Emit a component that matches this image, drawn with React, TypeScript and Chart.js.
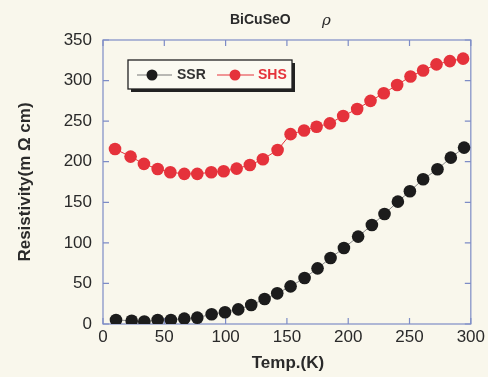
import React, { useEffect, useRef } from "react";
import { Chart, registerables } from "chart.js";

Chart.register(...registerables);

const ssrTemp = [10.6, 23.4, 33.7, 44.6, 55.4, 66.3, 76.9, 88.6, 99.5, 110.3, 120.9, 131.8, 142.1, 153, 164.4, 175, 185.6, 196.5, 208.1, 219.3, 229.6, 240.5, 250.3, 261.1, 272.8, 283.7, 294.5];
const ssrRho = [5, 4, 3, 5, 5, 6.6, 7.8, 12, 14.4, 18, 23.4, 30.8, 37.8, 46.4, 56.7, 68.6, 81.4, 93.7, 107.7, 122, 135.6, 150.8, 163.6, 178.4, 190.7, 205, 217.4];

const shsTemp = [9.8, 22.5, 33.4, 44.6, 54.9, 66.3, 76.9, 88.3, 98.4, 109, 119.8, 130.4, 142.4, 153, 164, 174.2, 185, 195.9, 207.3, 218.2, 229, 239.9, 250.8, 261.1, 272, 282.9, 293.7];
const shsRho = [215.7, 206.3, 197.3, 191, 187, 185, 185, 187, 188.3, 191.5, 196, 203, 214.5, 234, 238.5, 243, 247.3, 256.4, 265, 275, 284.3, 294.6, 305, 312.4, 320, 324, 327];

const xTickValues = [0, 50, 100, 150, 200, 250, 300];
const yTickValues = [0, 50, 100, 150, 200, 250, 300, 350];

const seriesNames = ["SSR", "SHS"];
const titleText = "BiCuSeO";
const titleSymbol = "ρ";
const xTitle = "Temp.(K)";
const yTitle = "Resistivity(m Ω cm)";

const BG = "#f9f7ec";
const FRAME = "#7d8cc6";
const RED = "#e5323b";
const BLACK = "#1c1c1c";
const FONT = "'Liberation Sans', Arial, sans-serif";

const decor = {
  id: "decor",
  beforeDraw(chart: any) {
    const ctx = chart.ctx;
    ctx.save();
    ctx.fillStyle = BG;
    ctx.fillRect(0, 0, chart.width, chart.height);
    ctx.restore();
  },
  beforeDatasetsDraw(chart: any) {
    const ctx = chart.ctx;
    const { left, right, top, bottom } = chart.chartArea;
    const xs = chart.scales.x;
    const ys = chart.scales.y;
    ctx.save();
    ctx.strokeStyle = FRAME;
    ctx.lineWidth = 1.2;
    ctx.strokeRect(left, top, right - left, bottom - top);
    const len = 6;
    ctx.beginPath();
    xTickValues.forEach((v) => {
      const x = xs.getPixelForValue(v);
      ctx.moveTo(x, bottom);
      ctx.lineTo(x, bottom - len);
      ctx.moveTo(x, top);
      ctx.lineTo(x, top + len);
    });
    yTickValues.forEach((v) => {
      const y = ys.getPixelForValue(v);
      ctx.moveTo(left, y);
      ctx.lineTo(left + len, y);
      ctx.moveTo(right, y);
      ctx.lineTo(right - len, y);
    });
    ctx.stroke();
    ctx.restore();
  },
  afterDraw(chart: any) {
    const ctx = chart.ctx;
    const { left, right, top, bottom } = chart.chartArea;
    ctx.save();
    // title
    ctx.fillStyle = "#2a2a2a";
    ctx.textBaseline = "middle";
    ctx.textAlign = "left";
    ctx.font = `bold 14px ${FONT}`;
    ctx.fillText(titleText, 230, 20);
    ctx.font = `italic 15px 'DejaVu Serif', serif`;
    ctx.fillText(titleSymbol, 322, 21);
    // x title
    ctx.textAlign = "center";
    ctx.font = `bold 17px ${FONT}`;
    ctx.fillText(xTitle, (left + right) / 2 + 1, 363);
    // y title
    ctx.save();
    ctx.translate(25, (top + bottom) / 2);
    ctx.rotate(-Math.PI / 2);
    ctx.fillText(yTitle, 0, 0);
    ctx.restore();

    // legend box
    const bx = 128, by = 60, bw = 164, bh = 29;
    ctx.fillStyle = "#222";
    ctx.fillRect(bx + 3, by + 3, bw, bh);
    ctx.fillStyle = "#fbfaf2";
    ctx.fillRect(bx, by, bw, bh);
    ctx.strokeStyle = "#222";
    ctx.lineWidth = 1.3;
    ctx.strokeRect(bx, by, bw, bh);
    const cy = by + bh / 2 + 0.5;
    const items = [
      { name: seriesNames[0], color: BLACK, line: "#777", x0: 137, x1: 172, dot: 152, tx: 177, tc: "#333" },
      { name: seriesNames[1], color: RED, line: RED, x0: 217, x1: 254, dot: 235, tx: 258, tc: RED },
    ];
    items.forEach((it) => {
      ctx.strokeStyle = it.line;
      ctx.lineWidth = 1;
      ctx.beginPath();
      ctx.moveTo(it.x0, cy);
      ctx.lineTo(it.x1, cy);
      ctx.stroke();
      ctx.fillStyle = it.color;
      ctx.beginPath();
      ctx.arc(it.dot, cy, 5.5, 0, Math.PI * 2);
      ctx.fill();
      ctx.fillStyle = it.tc;
      ctx.textAlign = "left";
      ctx.font = `bold 14px ${FONT}`;
      ctx.fillText(it.name, it.tx, cy);
    });
    ctx.restore();
  },
};

export default function App() {
  const ref = useRef<HTMLCanvasElement | null>(null);
  useEffect(() => {
    if (!ref.current) return;
    const chart = new Chart(ref.current, {
      type: "line",
      data: {
        datasets: [
          {
            label: seriesNames[0],
            data: ssrTemp.map((t, i) => ({ x: t, y: ssrRho[i] })),
            borderColor: "#8a8a8a",
            borderWidth: 1,
            backgroundColor: BLACK,
            pointBackgroundColor: BLACK,
            pointBorderColor: BLACK,
            pointRadius: 6.3,
            pointBorderWidth: 0,
            tension: 0,
          },
          {
            label: seriesNames[1],
            data: shsTemp.map((t, i) => ({ x: t, y: shsRho[i] })),
            borderColor: RED,
            borderWidth: 1,
            backgroundColor: RED,
            pointBackgroundColor: RED,
            pointBorderColor: RED,
            pointRadius: 6.3,
            pointBorderWidth: 0,
            tension: 0,
          },
        ],
      },
      options: {
        animation: false,
        responsive: true,
        maintainAspectRatio: false,
        layout: { padding: { top: 40, right: 17, left: 0, bottom: 0 } },
        plugins: {
          legend: { display: false },
          title: { display: false },
          tooltip: { enabled: false },
        },
        scales: {
          x: {
            type: "linear",
            min: 0,
            max: 300,
            afterFit: (s: any) => {
              s.height = 53;
            },
            afterBuildTicks: (s: any) => {
              s.ticks = xTickValues.map((v) => ({ value: v }));
            },
            grid: { display: false, drawTicks: false },
            border: { display: false },
            ticks: {
              padding: 3,
              color: "#2a2a2a",
              font: { family: FONT, size: 17 },
              maxRotation: 0,
            },
          },
          y: {
            type: "linear",
            min: 0,
            max: 350,
            afterFit: (s: any) => {
              s.width = 103;
            },
            afterBuildTicks: (s: any) => {
              s.ticks = yTickValues.map((v) => ({ value: v }));
            },
            grid: { display: false, drawTicks: false },
            border: { display: false },
            ticks: {
              padding: 11,
              color: "#2a2a2a",
              font: { family: FONT, size: 17 },
            },
          },
        },
      },
      plugins: [decor],
    } as any);
    return () => chart.destroy();
  }, []);
  return (
    <div style={{ position: "absolute", left: 0, top: 0, width: 488, height: 377 }}>
      <canvas ref={ref} />
    </div>
  );
}
